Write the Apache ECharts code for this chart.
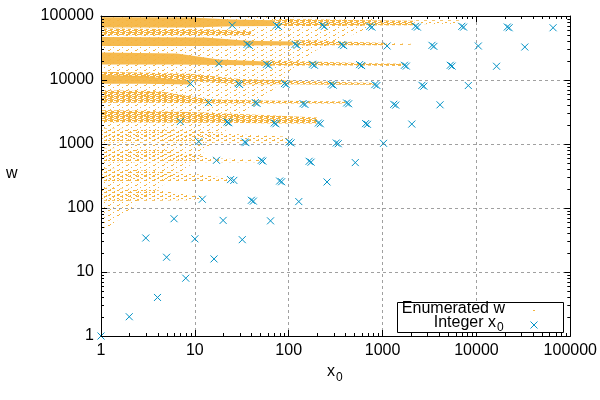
<!DOCTYPE html>
<html lang="en">
<head>
<meta charset="UTF-8">
<title>Enumerated w / Integer x0</title>
<style>
  * { margin: 0; padding: 0; }
  html, body, #chart { width: 600px; height: 400px; overflow: hidden; background: #fff; }
</style>
</head>
<body>
<div id="chart"></div>
<script src="https://cdn.jsdelivr.net/npm/echarts@6/dist/echarts.min.js"></script>
<script>
// Integer x0 points [x0, w]
let integerX0 = [
  [1, 1], [2, 2], [4, 4], [8, 8],
  [5, 17], [16, 16],
  [3, 34], [10, 33], [32, 32],
  [6, 68], [20, 64], [64, 63],
  [12, 137], [40, 132], [128, 126],
  [24, 278], [80, 264], [256, 255],
  [17, 556], [51, 556], [165, 537], [512, 512],
  [11, 1090], [34, 1075], [101, 1075], [321, 1037], [1024, 1024],
  [7, 2240], [22, 2206], [70, 2130], [207, 2130], [659, 2083], [2048, 2048],
  [14, 4436], [44, 4436], [142, 4276], [414, 4373], [1315, 4170], [4096, 4096],
  [9, 8790], [29, 8790], [90, 8790], [284, 8570], [827, 8470], [2626, 8260], [8192, 8192],
  [18, 18000], [58, 17600], [179, 17600], [569, 17400], [1709, 16980], [5260, 16980], [16384, 16384],
  [36, 36100], [117, 36100], [367, 35700], [1117, 33970], [3360, 34800], [10470, 33970], [32768, 32768],
  [25, 71600], [74, 71600], [228, 71600], [732, 69000], [2234, 69000], [6980, 69000], [21300, 67300], [65536, 65536]
];
// neighbours that make some crosses look doubled
let integerX0Near = [
  [78, 68500], [240, 69000], [770, 67000], [2350, 67000], [7300, 67000], [22300, 65500],
  [38, 34800], [123, 34800], [385, 34500], [3520, 33500],
  [61, 17000], [188, 17000], [598, 16800], [1790, 16500], [5500, 16500],
  [30, 8500], [94, 8500], [298, 8300], [870, 8200], [2750, 8000],
  [46, 4300], [149, 4150], [435, 4250], [1380, 4050],
  [23, 2150], [73, 2070], [217, 2070], [690, 2030],
  [35, 1050], [106, 1040], [337, 1010],
  [53, 540], [173, 520],
  [84, 257], [26, 270],
  [42, 128]
];

// Enumerated w: regions of dots, each a profile of [x0, wTop, wBottom]
let denseW = [
  [[1, 96000, 66000], [9, 95000, 66000], [25, 88000, 69000], [70, 86000, 70000]],
  [[1, 47000, 34000], [13, 46000, 34000], [36, 41000, 34500], [110, 40000, 35000]],
  [[1, 27000, 17500], [6.4, 26000, 17500], [18, 21000, 17200], [57, 19500, 17000]],
  [[1, 12000, 8700], [2.8, 11500, 8700], [9, 9600, 8500]]
];
let mediumW = [
  [[70, 90000, 70000], [230, 88000, 70000], [700, 86000, 71000], [2200, 84000, 72000]],
  [[1, 64000, 50000], [13, 62000, 50000], [40, 58000, 50000]],
  [[110, 42000, 34500], [370, 40000, 35000], [1100, 38000, 35000]],
  [[57, 20000, 16800], [180, 19500, 16800], [560, 18500, 16800], [1700, 18000, 16500]],
  [[1, 13500, 12000], [9, 12500, 9600], [28, 10500, 8600], [90, 9800, 8600], [290, 9400, 8400], [830, 9000, 8400]],
  [[1, 6900, 4400], [4.2, 6700, 4400], [14, 5000, 4300], [44, 4800, 4300], [140, 4700, 4300], [400, 4600, 4300]],
  [[1, 3400, 2200], [6.9, 3200, 2150], [22, 3000, 2150], [70, 2800, 2100], [200, 2600, 2100]]
];
let faintW = [
  [[1, 1760, 1060], [10.4, 1600, 1060], [34, 1400, 1050], [100, 1300, 1050]],
  [[1, 850, 520], [5.4, 800, 520], [16, 600, 520], [50, 560, 520]],
  [[1, 420, 255], [8.8, 350, 255], [24, 290, 260]],
  [[1, 210, 130], [4, 190, 130], [12, 150, 135]],
  [[2200, 86000, 74000], [6500, 86000, 76000]],
  [[1100, 38000, 35000], [2000, 37000, 35500]]
];
let hazeW = [
  [[1, 96000, 40], [3, 96000, 150], [8, 96000, 400], [20, 96000, 1500], [60, 96000, 6000],
   [200, 94000, 30000], [800, 92000, 70000]]
];

// minor tick marks of both log axes
let decades = [1, 10, 100, 1000, 10000];
let minorSteps = [2, 3, 4, 5, 6, 7, 8, 9];

const orange = '#f5b43f';
const blue = '#0493c7';
const font = 'Liberation Sans';
const crossPath = 'path://M0,0L10,10M10,0L0,10';

function dotPattern(w, h, dots) {
  let c = document.createElement('canvas');
  c.width = w; c.height = h;
  let g = c.getContext('2d');
  g.fillStyle = orange;
  dots.forEach(d => g.fillRect(d[0], d[1], d[2], 1));
  return { image: c, repeat: 'repeat' };
}
const mediumFill = dotPattern(6, 4, [[0, 0, 5], [2, 1, 3], [0, 2, 4], [3, 3, 3]]);
const faintFill = dotPattern(8, 4, [[0, 0, 3], [5, 2, 2], [2, 3, 1]]);
const hazeFill = dotPattern(9, 5, [[0, 0, 2], [5, 2, 1], [2, 4, 1]]);

let chart = echarts.init(document.getElementById('chart'));

function bandSeries(bands, fill, opacity) {
  return {
    type: 'custom',
    coordinateSystem: 'cartesian2d',
    clip: true,
    silent: true,
    data: bands.map((b, i) => [1, 1, i]),
    encode: { x: 0, y: 1 },
    renderItem: function (params, api) {
      let band = bands[api.value(2)];
      let top = band.map(p => api.coord([p[0], p[1]]));
      let bottom = band.slice().reverse().map(p => api.coord([p[0], p[2]]));
      return {
        type: 'polygon',
        shape: { points: top.concat(bottom) },
        style: { fill: fill, opacity: opacity }
      };
    }
  };
}

let minorValues = [];
decades.forEach(d => minorSteps.forEach(s => minorValues.push(d * s)));

let minorTickSeries = {
  type: 'custom',
  coordinateSystem: 'cartesian2d',
  silent: true,
  z: 10,
  data: minorValues.map(v => [v, v]),
  renderItem: function (params, api) {
    let cs = params.coordSys;
    let px = api.coord([api.value(0), 1])[0];
    let py = api.coord([1, api.value(1)])[1];
    let left = cs.x, right = cs.x + cs.width, top = cs.y, bottom = cs.y + cs.height;
    let st = { stroke: '#000', lineWidth: 1 };
    px = Math.round(px) + 0.5;
    py = Math.round(py) + 0.5;
    return {
      type: 'group',
      children: [
        { type: 'line', shape: { x1: px, y1: bottom, x2: px, y2: bottom - 3 }, style: st },
        { type: 'line', shape: { x1: px, y1: top, x2: px, y2: top + 3 }, style: st },
        { type: 'line', shape: { x1: left, y1: py, x2: left + 3, y2: py }, style: st },
        { type: 'line', shape: { x1: right, y1: py, x2: right - 3, y2: py }, style: st }
      ]
    };
  }
};

function logAxis(pos, showLabel, z) {
  return {
    type: 'log', logBase: 10, min: 1, max: 100000, position: pos, z: z,
    axisLine: { show: true, onZero: false, lineStyle: { color: '#000', width: 1 } },
    axisTick: { show: true, inside: true, length: 6, lineStyle: { color: '#000' } },
    axisLabel: {
      show: showLabel, color: '#000', fontFamily: font, fontSize: 16, margin: 7,
      formatter: v => String(Math.round(v))
    },
    splitLine: { show: false }
  };
}

function gridAxis(pos) {
  return {
    type: 'log', logBase: 10, min: 1, max: 100000, position: pos, z: 0,
    axisLine: { show: false }, axisTick: { show: false }, axisLabel: { show: false },
    splitLine: { show: true, lineStyle: { color: '#a0a0a0', type: [3, 3], width: 1 } }
  };
}

let option = {
  animation: false,
  backgroundColor: '#fff',
  grid: { left: 101, right: 28, top: 16, bottom: 64 },
  xAxis: [logAxis('bottom', true, 10), logAxis('top', false, 10), gridAxis('bottom')],
  yAxis: [logAxis('left', true, 10), logAxis('right', false, 10), gridAxis('left')],
  series: [
    bandSeries(hazeW, hazeFill, 1),
    bandSeries(faintW, faintFill, 1),
    bandSeries(mediumW, mediumFill, 1),
    bandSeries(denseW, orange, 0.92),
    {
      type: 'scatter',
      silent: true,
      z: 5,
      symbol: crossPath,
      symbolSize: 7,
      itemStyle: { color: 'rgba(0,0,0,0)', borderColor: blue, borderWidth: 1, opacity: 1 },
      data: integerX0.concat(integerX0Near)
    },
    minorTickSeries
  ],
  graphic: [
    { type: 'text', left: 6, top: 166, style: { text: 'w', font: '16px "' + font + '"', fill: '#000' } },
    { type: 'text', x: 327, y: 364, style: { text: 'x', font: '16px "' + font + '"', fill: '#000' } },
    { type: 'text', x: 336, y: 372, style: { text: '0', font: '12px "' + font + '"', fill: '#000' } },
    { type: 'rect', z: 20, shape: { x: 397.5, y: 302.5, width: 166, height: 30 },
      style: { fill: '#fff', stroke: '#000', lineWidth: 1 } },
    { type: 'text', z: 21, x: 505, y: 309, style: { text: 'Enumerated w', font: '16px "' + font + '"', fill: '#000', align: 'right', verticalAlign: 'middle' } },
    { type: 'text', z: 21, x: 496, y: 323, style: { text: 'Integer x', font: '16px "' + font + '"', fill: '#000', align: 'right', verticalAlign: 'middle' } },
    { type: 'text', z: 21, x: 497, y: 328, style: { text: '0', font: '12px "' + font + '"', fill: '#000', align: 'left', verticalAlign: 'middle' } },
    { type: 'rect', z: 21, shape: { x: 533, y: 310, width: 2, height: 1 }, style: { fill: orange } },
    { type: 'line', z: 21, shape: { x1: 530.5, y1: 321.5, x2: 537.5, y2: 328.5 }, style: { stroke: blue, lineWidth: 1 } },
    { type: 'line', z: 21, shape: { x1: 537.5, y1: 321.5, x2: 530.5, y2: 328.5 }, style: { stroke: blue, lineWidth: 1 } }
  ]
};

chart.setOption(option);
</script>
</body>
</html>
